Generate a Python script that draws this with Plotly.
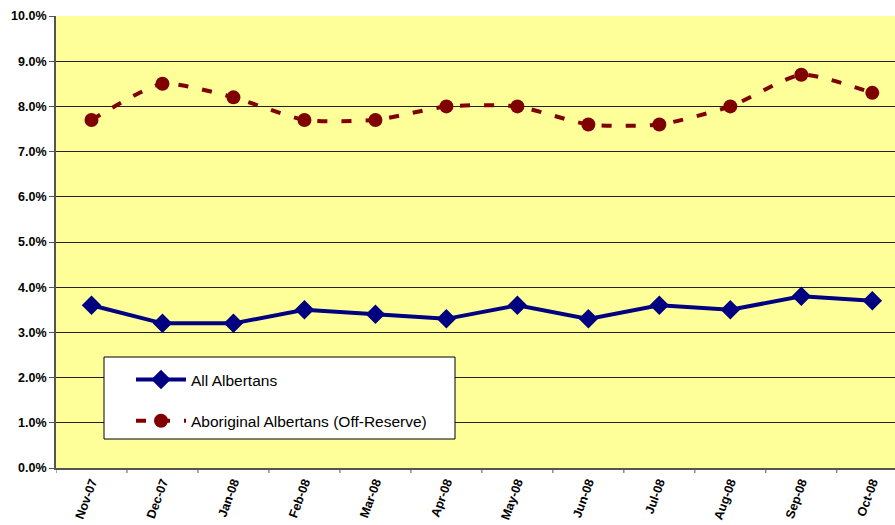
import plotly.graph_objects as go

months = ["Nov-07", "Dec-07", "Jan-08", "Feb-08", "Mar-08", "Apr-08",
          "May-08", "Jun-08", "Jul-08", "Aug-08", "Sep-08", "Oct-08"]
all_albertans = [3.6, 3.2, 3.2, 3.5, 3.4, 3.3, 3.6, 3.3, 3.6, 3.5, 3.8, 3.7]
aboriginal_off_reserve = [7.7, 8.5, 8.2, 7.7, 7.7, 8.0, 8.0, 7.6, 7.6, 8.0, 8.7, 8.3]
y_ticks = [0, 1, 2, 3, 4, 5, 6, 7, 8, 9, 10]
y_tick_text = [f"{v:.1f}%" for v in y_ticks]

FONT = "Arial, 'Liberation Sans', sans-serif"
x_idx = list(range(len(months)))

fig = go.Figure()
fig.add_trace(go.Scatter(
    x=x_idx, y=all_albertans, name="All Albertans",
    mode="lines+markers", legendgroup="a",
    line=dict(color="#000080", width=4),
    marker=dict(symbol="diamond", size=15, color="#000080"),
))
fig.add_trace(go.Scatter(
    x=x_idx, y=aboriginal_off_reserve, name="Aboriginal Albertans (Off-Reserve)",
    mode="lines+markers", legendgroup="b",
    line=dict(color="#800000", width=4, dash="10px,14px", shape="spline", smoothing=0.6),
    marker=dict(symbol="circle", size=14, color="#800000"),
))

# legend frame
L, T, B = 56, 16, 468
W = 895 - L
H = B - T
fig.add_shape(type="rect", xref="paper", yref="paper",
              x0=(104 - L) / W, x1=(455 - L) / W,
              y0=(B - 439) / H, y1=(B - 357) / H,
              fillcolor="white", line=dict(color="black", width=1), layer="above")

fig.update_layout(
    width=895, height=525,
    margin=dict(l=L, r=0, t=T, b=525 - B),
    paper_bgcolor="white", plot_bgcolor="#FFFF99",
    font=dict(family=FONT, color="black"),
    showlegend=True,
    legend=dict(
        x=(131 - L) / W, y=(B - 363) / H, xanchor="left", yanchor="top",
        bgcolor="rgba(0,0,0,0)", borderwidth=0,
        font=dict(family=FONT, size=15.5, color="black"),
        tracegroupgap=18, itemwidth=50, traceorder="grouped",
    ),
    xaxis=dict(
        range=[-0.5, 11.32], tickmode="array", tickvals=x_idx, ticktext=months,
        tickangle=-70, tickfont=dict(family=FONT, size=12.5, color="black", weight="bold"),
        showgrid=False, zeroline=False, showline=True, linecolor="#555555", linewidth=2,
        ticks="", fixedrange=True,
    ),
    yaxis=dict(
        range=[0, 10], tickmode="array", tickvals=y_ticks, ticktext=y_tick_text,
        tickfont=dict(family=FONT, size=12.5, color="black", weight="bold"),
        showgrid=True, gridcolor="#222222", gridwidth=1, zeroline=False,
        showline=True, linecolor="#555555", linewidth=2,
        ticks="outside", ticklen=5, tickcolor="#555555", tickwidth=1,
    ),
)

# category separators below the x axis
for i in range(len(months) + 1):
    fig.add_shape(type="line", xref="x", yref="paper", x0=i - 0.5, x1=i - 0.5,
                  y0=0, y1=-5 / H, line=dict(color="#555555", width=1))

fig.write_html("out.html")
